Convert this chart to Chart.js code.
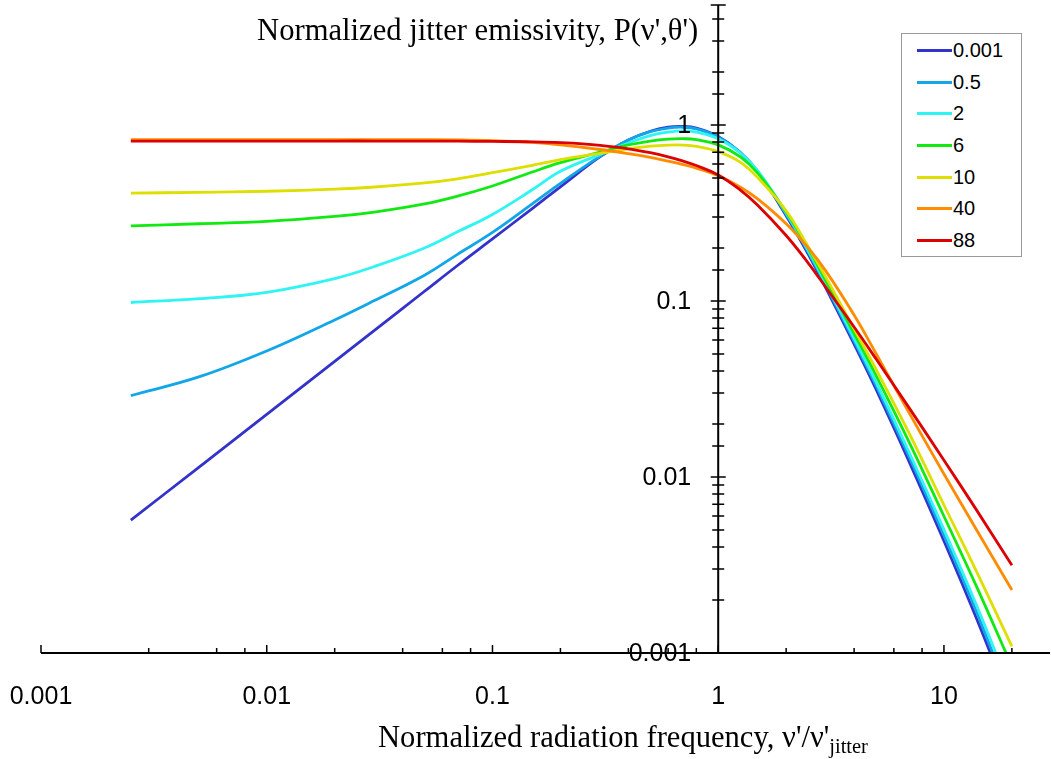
<!DOCTYPE html>
<html>
<head>
<meta charset="utf-8">
<title>Normalized jitter emissivity</title>
<script src="https://cdn.jsdelivr.net/npm/chart.js@4.4.0/dist/chart.umd.min.js"></script>
<style>
  html, body { margin: 0; padding: 0; background: #fff; }
  #wrap { position: relative; width: 1051px; height: 759px; }
  #legend {
    position: absolute; left: 901px; top: 33px; width: 121px; height: 224px;
    box-sizing: border-box; border: 1px solid #9a9a9a; background: #fff;
    padding-top: 1px; font: 20px "Liberation Sans", Arial, sans-serif; color: #000;
  }
  .row { display: flex; align-items: center; height: 31.6px; }
  .swatch { width: 35px; height: 3px; margin-left: 15px; margin-right: 1px; }
</style>
</head>
<body>
<div id="wrap">
  <canvas id="chart" width="1051" height="759"></canvas>
  <div id="legend"></div>
</div>
<script>
// normalized frequency nu'/nu'_jitter
const freq = [0.0025, 0.005, 0.01, 0.02, 0.03, 0.05, 0.07, 0.1, 0.15, 0.2, 0.3, 0.4, 0.5, 0.6, 0.7, 0.8,
  1, 1.25, 1.5, 2, 2.5, 3, 4, 5, 7, 10, 14, 20];

// emissivity curves, one per legend entry
const p0001 = [0.00568, 0.01135, 0.0227, 0.0454, 0.0681, 0.1135, 0.159, 0.225, 0.335, 0.445, 0.66, 0.82, 0.92, 0.97, 0.98, 0.96,
  0.86, 0.70, 0.54, 0.305, 0.185, 0.1183, 0.0568, 0.0315, 0.01227, 0.00433, 0.00155, 0.000487];
const p05 = [0.029, 0.037, 0.052, 0.078, 0.1005, 0.14, 0.184, 0.245, 0.356, 0.465, 0.665, 0.82, 0.915, 0.96, 0.97, 0.95,
  0.855, 0.70, 0.543, 0.311, 0.19, 0.1218, 0.0591, 0.0331, 0.01307, 0.00465, 0.00169, 0.00052];
const p2 = [0.098, 0.103, 0.112, 0.134, 0.157, 0.2, 0.247, 0.31, 0.428, 0.545, 0.68, 0.79, 0.87, 0.91, 0.925, 0.91,
  0.835, 0.695, 0.546, 0.316, 0.194, 0.1254, 0.0613, 0.0347, 0.01387, 0.00502, 0.00184, 0.00059];
const p6 = [0.267, 0.2745, 0.283, 0.302, 0.32, 0.356, 0.394, 0.45, 0.54, 0.61, 0.70, 0.77, 0.81, 0.83, 0.835, 0.825,
  0.77, 0.66, 0.53, 0.32, 0.2, 0.130, 0.0653, 0.0378, 0.01583, 0.00598, 0.00236, 0.00084];
const p10 = [0.41, 0.414, 0.42, 0.432, 0.444, 0.468, 0.494, 0.535, 0.59, 0.635, 0.69, 0.73, 0.757, 0.768, 0.768, 0.755,
  0.705, 0.615, 0.5, 0.325, 0.204, 0.136, 0.0693, 0.041, 0.0178, 0.00693, 0.00287, 0.00109];
const p40 = [0.825, 0.825, 0.825, 0.825, 0.825, 0.825, 0.823, 0.815, 0.795, 0.77, 0.725, 0.687, 0.654, 0.623, 0.595, 0.568,
  0.514, 0.444, 0.3785, 0.2743, 0.2007, 0.1477, 0.0831, 0.0503, 0.0232, 0.0104, 0.00496, 0.00228];
const p88 = [0.81, 0.81, 0.81, 0.81, 0.81, 0.809, 0.808, 0.806, 0.802, 0.793, 0.766, 0.732, 0.695, 0.658, 0.6226, 0.5877,
  0.52, 0.428, 0.349, 0.2354, 0.1647, 0.1193, 0.0711, 0.0469, 0.02477, 0.01245, 0.00644, 0.00315];

const seriesNames = ['0.001', '0.5', '2', '6', '10', '40', '88'];
const seriesValues = [p0001, p05, p2, p6, p10, p40, p88];
const seriesColors = ['#3333cc', '#12a6e8', '#2ef4f4', '#10ea10', '#dede00', '#ff8c00', '#dc0000'];

const xTickValues = [0.001, 0.01, 0.1, 1, 10];
const xTickLabels = ['0.001', '0.01', '0.1', '1', '10'];
const yTickValues = [0.001, 0.01, 0.1, 1];
const yTickLabels = ['0.001', '0.01', '0.1', '1'];

const yTitle = "Normalized jitter emissivity, P(\u03bd',\u03b8')";
const xTitle = "Normalized radiation frequency, \u03bd'/\u03bd'";
const xTitleSub = 'jitter';

const isDecade = v => Math.abs(Math.log10(v) - Math.round(Math.log10(v))) < 1e-6;

// axes crossing at nu=1 and P=0.001, ticks through the axis like the original plot
const crossAxes = {
  id: 'crossAxes',
  afterDatasetsDraw(chart) {
    const { ctx, scales: { x, y } } = chart;
    const x0 = x.getPixelForValue(1);
    const y0 = y.getPixelForValue(y.min);
    ctx.save();
    ctx.strokeStyle = '#000';
    ctx.lineWidth = 2;
    ctx.beginPath();
    ctx.moveTo(x.left, y0); ctx.lineTo(x.right, y0);
    ctx.moveTo(x0, y.top); ctx.lineTo(x0, y0);
    ctx.stroke();

    ctx.lineWidth = 1.5;
    ctx.beginPath();
    x.ticks.forEach(t => {
      if (t.value >= x.max) return;
      const px = x.getPixelForValue(t.value);
      const len = isDecade(t.value) ? 8 : 5;
      ctx.moveTo(px, y0); ctx.lineTo(px, y0 - len);
    });
    y.ticks.forEach(t => {
      if (t.value <= y.min) return;
      const py = y.getPixelForValue(t.value);
      const len = (isDecade(t.value) || t.value >= y.max) ? 7.5 : 6;
      ctx.moveTo(x0 - len, py); ctx.lineTo(x0 + len, py);
    });
    ctx.stroke();

    ctx.fillStyle = '#000';
    ctx.font = '25px "Liberation Sans", Arial, sans-serif';
    ctx.textAlign = 'center';
    ctx.textBaseline = 'middle';
    xTickValues.forEach((v, i) => ctx.fillText(xTickLabels[i], x.getPixelForValue(v), y0 + 44));
    ctx.textAlign = 'right';
    yTickValues.forEach((v, i) => ctx.fillText(yTickLabels[i], x0 - 27, y.getPixelForValue(v) + 1));

    ctx.font = '30.6px "Liberation Serif", "Times New Roman", serif';
    ctx.textBaseline = 'alphabetic';
    ctx.textAlign = 'right';
    ctx.fillText(yTitle, x0 - 20, 40);

    ctx.textAlign = 'left';
    const tx = 378, ty = 747;
    ctx.fillText(xTitle, tx, ty);
    const w = ctx.measureText(xTitle).width;
    ctx.font = '20.5px "Liberation Serif", "Times New Roman", serif';
    ctx.fillText(xTitleSub, tx + w, ty + 6);
    ctx.restore();
  }
};

const datasets = seriesNames.map((name, i) => ({
  label: name,
  data: freq.map((f, j) => ({ x: f, y: seriesValues[i][j] })),
  borderColor: seriesColors[i],
  backgroundColor: seriesColors[i],
  borderWidth: 2.8,
  showLine: true,
  pointRadius: 0,
  tension: 0.4,
  order: seriesNames.length - i
}));

new Chart(document.getElementById('chart'), {
  type: 'scatter',
  data: { datasets },
  options: {
    responsive: false,
    animation: false,
    events: [],
    layout: { padding: { left: 41, right: 1, top: 5, bottom: 106 } },
    scales: {
      x: { type: 'logarithmic', min: 0.001, max: 29.5, display: false },
      y: { type: 'logarithmic', min: 0.001, max: 4.8, display: false }
    },
    plugins: { legend: { display: false }, tooltip: { enabled: false } }
  },
  plugins: [crossAxes]
});

const legend = document.getElementById('legend');
seriesNames.forEach((name, i) => {
  const row = document.createElement('div');
  row.className = 'row';
  row.innerHTML = `<span class="swatch" style="background:${seriesColors[i]}"></span><span>${name}</span>`;
  legend.appendChild(row);
});
</script>
</body>
</html>
